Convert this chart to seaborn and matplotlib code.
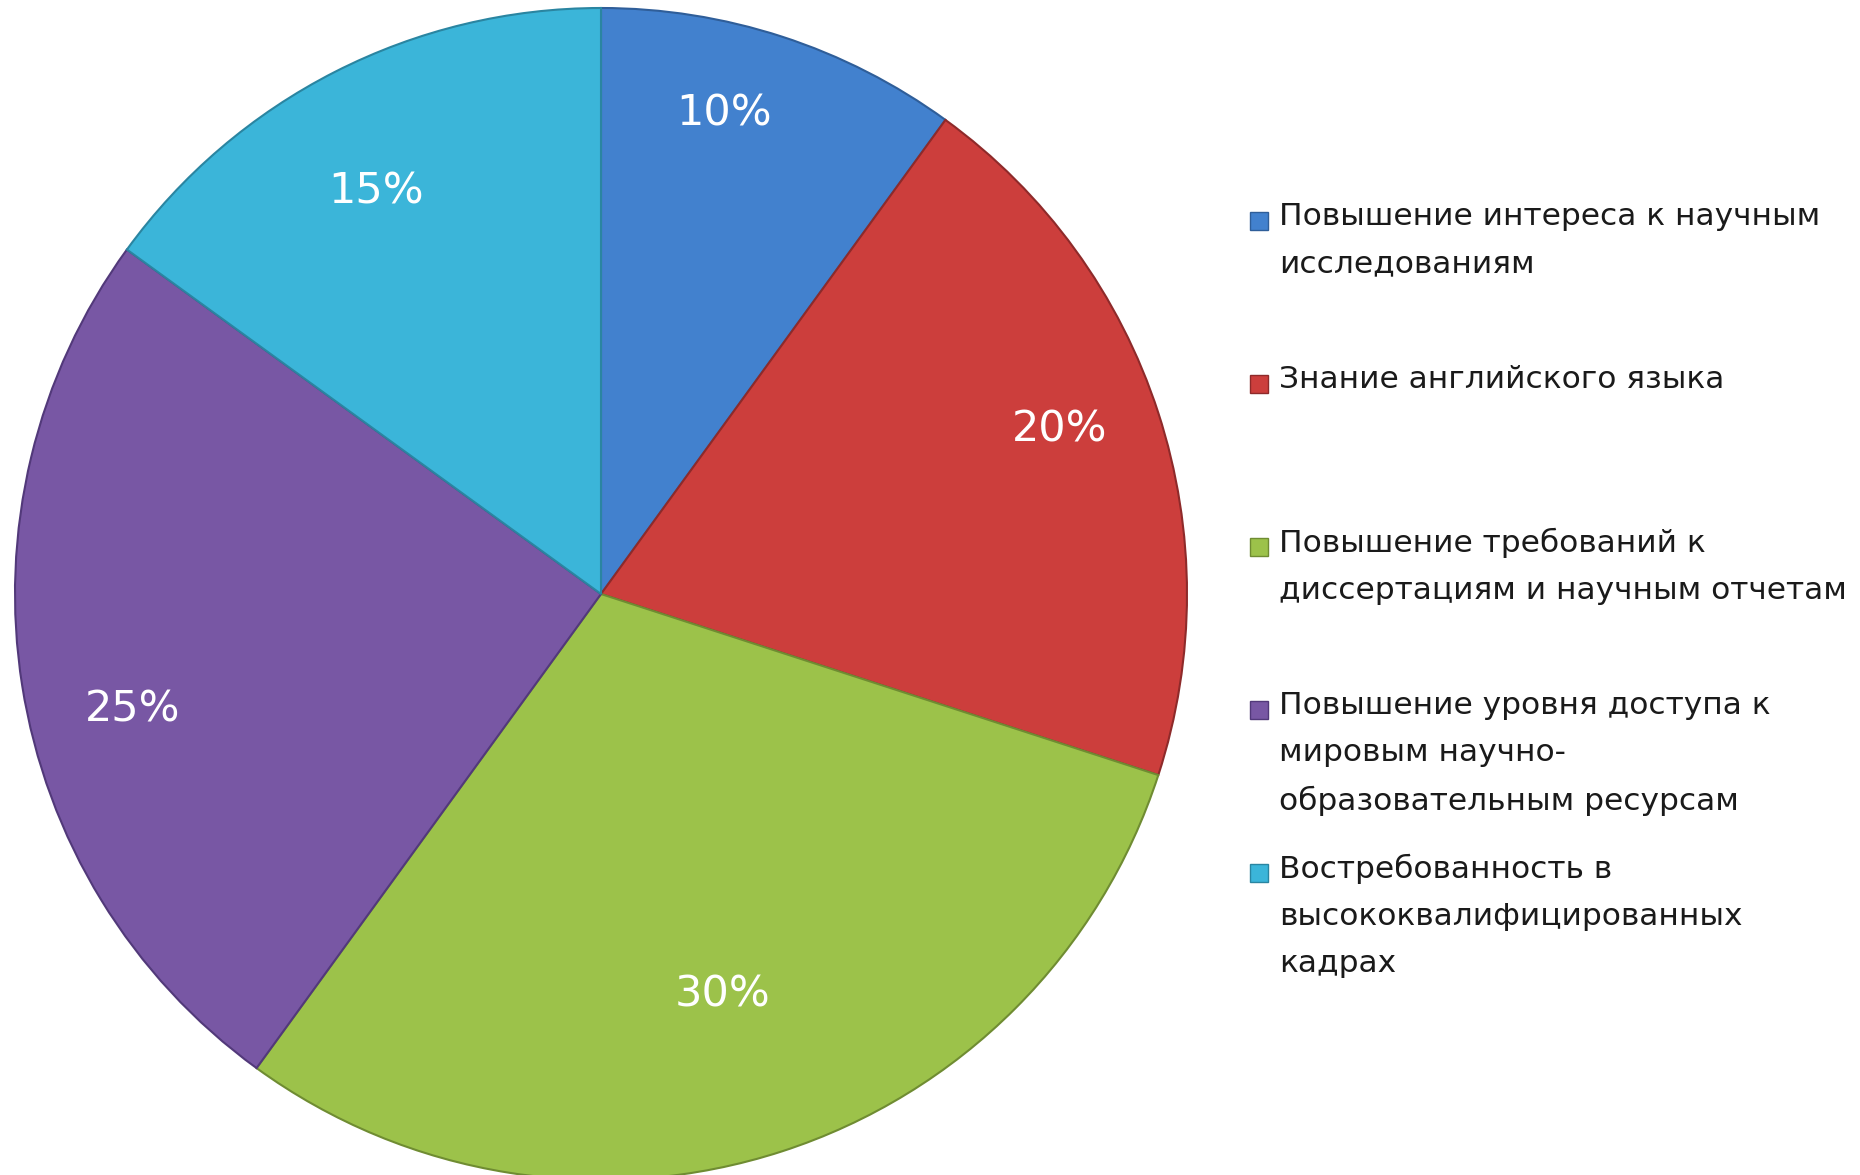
import matplotlib
matplotlib.use("Agg")
import matplotlib.pyplot as plt
import matplotlib.patches as mpatches
import numpy as np
import seaborn as sns

categories = [
    "Повышение интереса к научным\nисследованиям",
    "Знание английского языка",
    "Повышение требований к\nдиссертациям и научным отчетам",
    "Повышение уровня доступа к\nмировым научно-\nобразовательным ресурсам",
    "Востребованность в\nвысококвалифицированных\nкадрах",
]
values = [10, 20, 30, 25, 15]
colors = ["#4281CE", "#CC3E3C", "#9CC24A", "#7857A4", "#3BB5D9"]
edges = ["#2F5E99", "#8E2A2A", "#6F8C32", "#52397A", "#2A85A1"]
# label placement (Excel best-fit style): radial distance and angular nudge
label_dist = [0.847, 0.831, 0.714, 0.823, 0.786]
label_shift_deg = [3.7, 1.8, -1.1, 4.85, 2.2]

sns.set_theme(style="white")
plt.rcParams['font.family'] = ['DejaVu Sans']
palette = sns.color_palette(colors)

fig = plt.figure(figsize=(18.6, 11.75), dpi=100)
W, H = 1860, 1175
cx, cy, r = 601, 594, 586
ax = fig.add_axes([(cx - r) / W, (H - cy - r) / H, 2 * r / W, 2 * r / H])
wedges, texts, autotexts = ax.pie(
    values, colors=palette, startangle=90, counterclock=False,
    autopct=lambda p: f"{p:.0f}%", pctdistance=0.8, radius=1,
    wedgeprops=dict(linewidth=1.5),
    textprops=dict(color="white", fontsize=31),
)
for w, e, t, d, s in zip(wedges, edges, autotexts, label_dist, label_shift_deg):
    w.set_edgecolor(e)
    mid = np.deg2rad((w.theta1 + w.theta2) / 2 + s)
    t.set_position((d * np.cos(mid), d * np.sin(mid)))
ax.set_xlim(-1.0, 1.0)
ax.set_ylim(-1.0, 1.0)
ax.set_aspect("equal")
ax.axis("off")

# legend (manual layout, Excel-like fixed slots)
x_box, x_text = 1250, 1279
y0, step = 221, 163
for i, (lab, col, e) in enumerate(zip(categories, colors, edges)):
    y = y0 + i * step
    sq = 18
    fig.patches.append(mpatches.Rectangle(
        ((x_box) / W, (H - y - sq / 2) / H), sq / W, sq / H,
        transform=fig.transFigure, facecolor=col, edgecolor=e, linewidth=1))
    fig.text(x_text / W, (H - y + 19) / H, lab, fontsize=22.5, color="#1a1a1a",
             va="top", ha="left", linespacing=1.78)

fig.savefig("out.png", dpi=100)
